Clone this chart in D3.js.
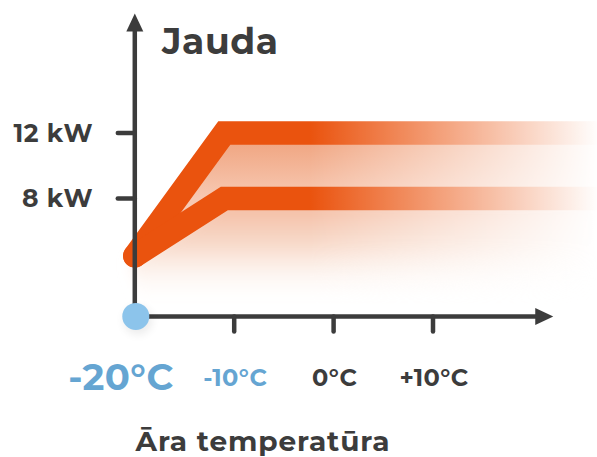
<!DOCTYPE html>
<html><head><meta charset="utf-8">
<script src="https://cdn.jsdelivr.net/npm/d3@7"></script>
<style>html,body{margin:0;padding:0;background:#fff;overflow:hidden}</style>
</head><body>
<svg id="c" width="597" height="457"></svg>
<script>
const temps = [-20, -11, 27];
const power12 = [4.5, 12, 12];
const power8 = [4.5, 8, 8];
const xTicks = [-10, 0, 10];
const xTickLabels = ["-10°C", "0°C", "+10°C"];
const yTicks = [8, 12];
const yTickLabels = ["8 kW", "12 kW"];
const xStartLabel = "-20°C";
const yTitle = "Jauda";
const xTitle = "Āra temperatūra";

const W = 597, H = 457;
const x = d3.scaleLinear().domain([-20, 10]).range([134.8, 433]);
const y = d3.scaleLinear().domain([8, 12]).range([198.5, 133]);
const xMin = -20, xMax = 22.1, yMin = 0.8, yMax = 19.3;
const axisColor = "#3c3c3c", orange = "#ea530e", blue = "#8cc4eb", blueText = "#65a5d2";
const font = "Montserrat, 'Open Sans', sans-serif";

const svg = d3.select("#c");
const defs = svg.append("defs");

const fade = defs.append("linearGradient").attr("id", "fadeG")
  .attr("gradientUnits", "userSpaceOnUse").attr("x1", 310).attr("x2", 600).attr("y1", 0).attr("y2", 0);
fade.append("stop").attr("offset", 0).attr("stop-color", "#fff");
fade.append("stop").attr("offset", 1).attr("stop-color", "#000");
defs.append("mask").attr("id", "fadeM").attr("maskUnits", "userSpaceOnUse")
  .attr("x", 0).attr("y", 0).attr("width", W).attr("height", H)
  .append("rect").attr("width", W).attr("height", H).attr("fill", "url(#fadeG)");

const betweenG = defs.append("linearGradient").attr("id", "betG")
  .attr("gradientUnits", "userSpaceOnUse").attr("x1", 0).attr("x2", 0).attr("y1", y(12)).attr("y2", y(8));
betweenG.append("stop").attr("offset", 0).attr("stop-color", "#efa07a");
betweenG.append("stop").attr("offset", 1).attr("stop-color", "#f7c9b3");

const glowG = defs.append("linearGradient").attr("id", "glowG")
  .attr("gradientUnits", "userSpaceOnUse").attr("x1", 0).attr("x2", 0).attr("y1", y(8)).attr("y2", y(yMin) - 10);
glowG.append("stop").attr("offset", 0).attr("stop-color", "#f3b89c");
glowG.append("stop").attr("offset", 0.45).attr("stop-color", "#f8dccd");
glowG.append("stop").attr("offset", 1).attr("stop-color", "#fff").attr("stop-opacity", 0);

defs.append("filter").attr("id", "blur").attr("x", "-20%").attr("y", "-20%").attr("width", "140%").attr("height", "140%")
  .append("feGaussianBlur").attr("stdDeviation", 7);
defs.append("filter").attr("id", "blur2").attr("x", "-50%").attr("y", "-50%").attr("width", "200%").attr("height", "200%")
  .append("feGaussianBlur").attr("stdDeviation", 5);

const pts12 = temps.map((t, i) => [x(t), y(power12[i])]);
const pts8 = temps.map((t, i) => [x(t), y(power8[i])]);

const g = svg.append("g").attr("mask", "url(#fadeM)");

// glow below the lower line
const glowPoly = [[pts8[0][0] - 4, pts8[0][1] + 6], pts8[1], pts8[2], [pts8[2][0], y(yMin) - 5], [pts8[0][0] + 5, y(yMin) - 5]];
g.append("path").attr("d", d3.line()(glowPoly) + "Z")
  .attr("fill", "url(#glowG)").attr("filter", "url(#blur)");

// fill between lines
const betPoly = pts12.concat(pts8.slice().reverse());
g.append("path").attr("d", d3.line()(betPoly) + "Z").attr("fill", "url(#betG)");

// the two lines, round caps meeting at the start
[pts12, pts8].forEach(p => {
  g.append("path").attr("d", d3.line()(p))
    .attr("fill", "none").attr("stroke", orange).attr("stroke-width", 23.5)
    .attr("stroke-linejoin", "miter").attr("stroke-miterlimit", 10)
    .attr("stroke-linecap", "round");
});

// axes
const ax = svg.append("g");
ax.append("line").attr("x1", x(xMin)).attr("x2", x(xMin)).attr("y1", y(yMin)).attr("y2", y(yMax) + 16)
  .attr("stroke", axisColor).attr("stroke-width", 4.5);
ax.append("path").attr("d", d3.line()([[x(xMin) - 8.5, y(yMax) + 18], [x(xMin), y(yMax)], [x(xMin) + 8.5, y(yMax) + 18]]) + "Z")
  .attr("fill", axisColor);
ax.append("line").attr("x1", x(xMin)).attr("x2", x(xMax) - 16).attr("y1", y(yMin)).attr("y2", y(yMin))
  .attr("stroke", axisColor).attr("stroke-width", 4.5);
ax.append("path").attr("d", d3.line()([[x(xMax) - 18, y(yMin) - 8.5], [x(xMax), y(yMin)], [x(xMax) - 18, y(yMin) + 8.5]]) + "Z")
  .attr("fill", axisColor);

ax.selectAll(".xt").data(xTicks).join("line")
  .attr("x1", d => x(d)).attr("x2", d => x(d)).attr("y1", y(yMin)).attr("y2", y(yMin) + 15)
  .attr("stroke", axisColor).attr("stroke-width", 4.5).attr("stroke-linecap", "round");
ax.selectAll(".yt").data(yTicks).join("line")
  .attr("x1", x(xMin)).attr("x2", x(xMin) - 17).attr("y1", d => y(d)).attr("y2", d => y(d))
  .attr("stroke", axisColor).attr("stroke-width", 4.5).attr("stroke-linecap", "round");

// blue dot with soft shadow
svg.append("circle").attr("cx", x(xMin) + 3).attr("cy", y(yMin) + 4).attr("r", 14)
  .attr("fill", "#000").attr("opacity", 0.08).attr("filter", "url(#blur2)");
svg.append("circle").attr("cx", x(xMin) + 1).attr("cy", y(yMin)).attr("r", 13.5).attr("fill", blue);

// labels
const t = svg.append("g").attr("font-family", font).attr("font-weight", 700);
t.append("text").attr("x", 162).attr("y", 54).attr("font-size", 36).attr("letter-spacing", 0.6)
  .attr("fill", axisColor).text(yTitle);
t.selectAll(".yl").data(yTicks).join("text")
  .attr("x", 93).attr("y", d => y(d) + 8.5).attr("text-anchor", "end")
  .attr("font-size", 25).attr("letter-spacing", 0.5).attr("fill", axisColor).text((d, i) => yTickLabels[i]);
t.selectAll(".xl").data(xTicks).join("text")
  .attr("x", d => x(d) + 1).attr("y", 386).attr("text-anchor", "middle")
  .attr("font-size", 24).attr("letter-spacing", 0.4).attr("fill", (d, i) => i === 0 ? blueText : axisColor)
  .text((d, i) => xTickLabels[i]);
t.append("text").attr("x", 121).attr("y", 390).attr("text-anchor", "middle")
  .attr("font-size", 37).attr("letter-spacing", 0.4).attr("fill", blueText).text(xStartLabel);
t.append("text").attr("x", 263).attr("y", 451).attr("text-anchor", "middle")
  .attr("font-size", 28).attr("letter-spacing", 0.9).attr("fill", axisColor).text(xTitle);
</script>
</body></html>
